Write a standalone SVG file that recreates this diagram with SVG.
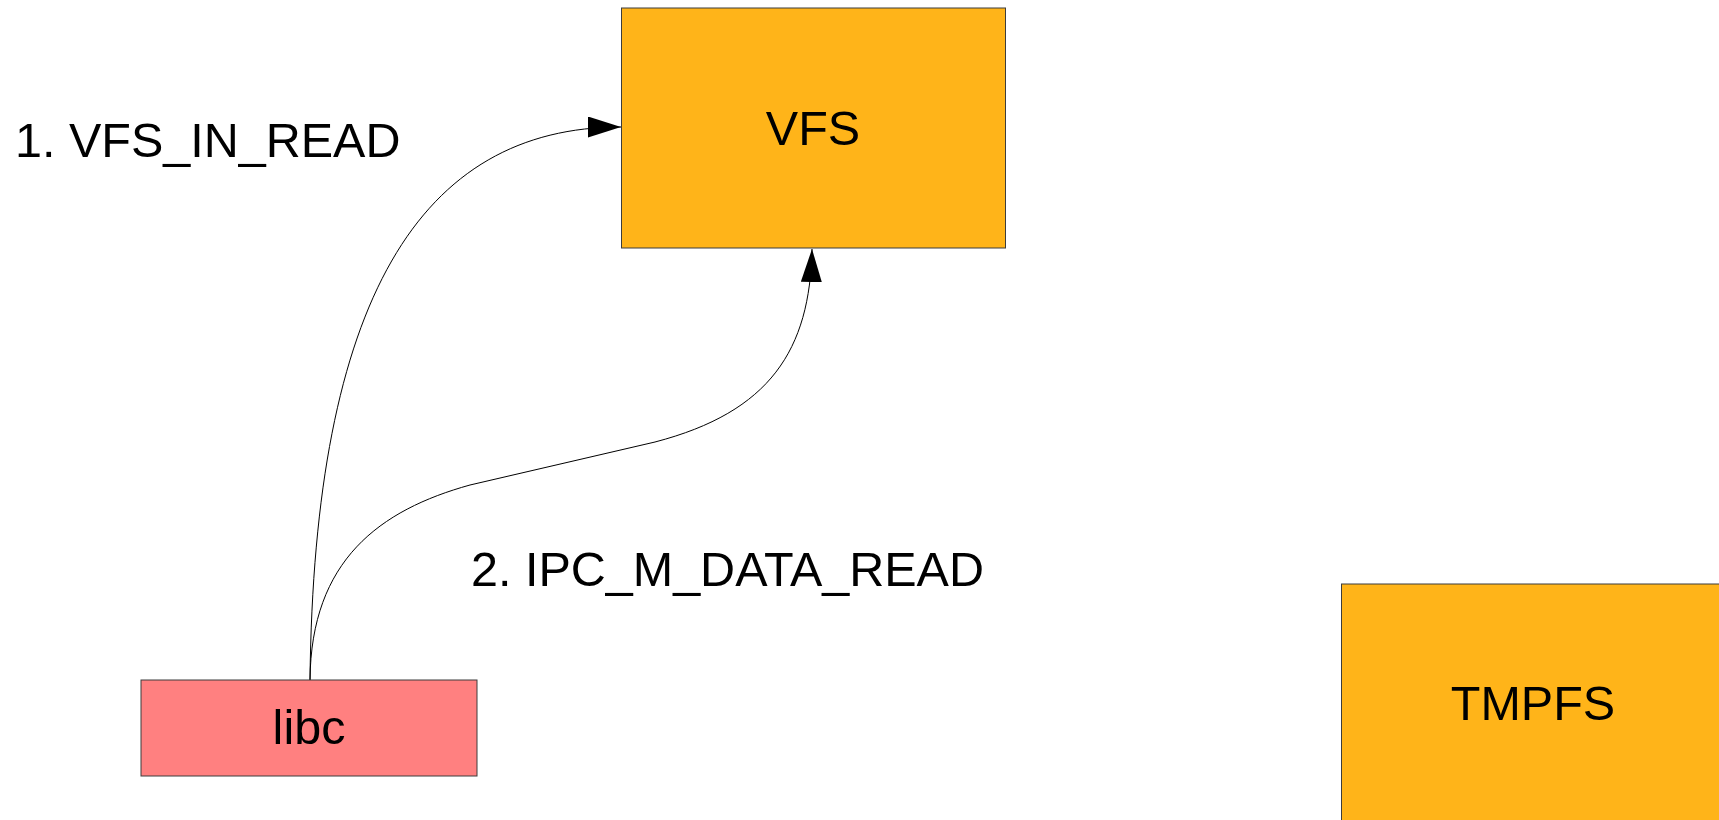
<svg xmlns="http://www.w3.org/2000/svg" width="1719" height="820" viewBox="0 0 1719 820">
<style>
.box{stroke:#3c3c3c;stroke-width:1}
.fs{fill:#ffb419}
.lib{fill:#ff8080}
.t{font-family:"Liberation Sans",Arial,sans-serif;font-size:48.5px;fill:#000}
.c{fill:none;stroke:#000;stroke-width:1}
</style>
<defs>
<marker id="arr" markerUnits="userSpaceOnUse" viewBox="0 0 33 21" refX="33" refY="10.5" markerWidth="33" markerHeight="21" orient="auto">
<path d="M0,0 L33,10.5 L0,21 z" fill="#000"/>
</marker>
</defs>
<g id="connectors">
<path class="c" d="M310,680 C314,300 420,127 621,127" marker-end="url(#arr)"/>
<path class="c" d="M310,680 C311,560 380,510 470,485 L655,442 C770,412 810,350 812,249" marker-end="url(#arr)"/>
</g>
<g id="vfs">
<rect class="box fs" x="621.5" y="8" width="384" height="240"/>
<text class="t" x="813" y="145" text-anchor="middle">VFS</text>
</g>
<g id="libc">
<rect class="box lib" x="141" y="680" width="336" height="96"/>
<text class="t" x="309" y="744" text-anchor="middle">libc</text>
</g>
<g id="tmpfs">
<rect class="box fs" x="1341.5" y="584" width="384" height="240"/>
<text class="t" x="1533" y="720" text-anchor="middle">TMPFS</text>
</g>
<g id="labels">
<text class="t" x="15" y="157">1. VFS_IN_READ</text>
<text class="t" x="471" y="586">2. IPC_M_DATA_READ</text>
</g>
</svg>
